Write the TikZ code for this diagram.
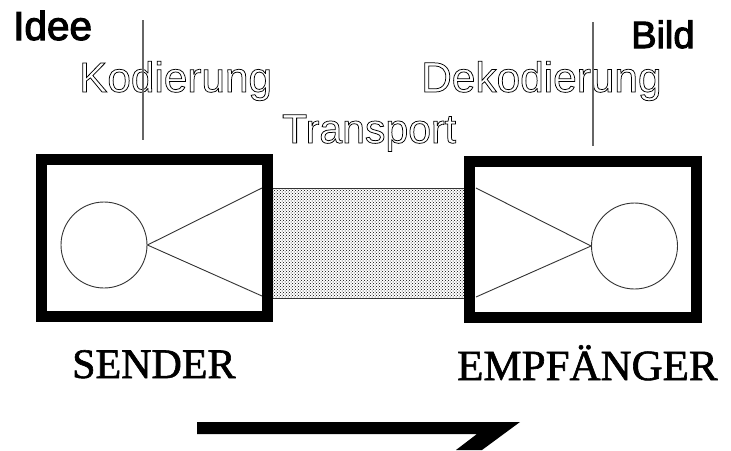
\documentclass[tikz,border=0pt]{standalone}
\usepackage{fontspec}
\setmainfont{Liberation Serif}
\newfontfamily\arialfont{Liberation Sans}
\usetikzlibrary{patterns}

\tikzset{
  frame/.style={draw=black, line width=11pt, fill=white, inner sep=0pt},
  eye/.style={circle, draw=black!80, line width=0.9pt, inner sep=0pt, minimum size=86pt},
  ray/.style={draw=black!80, line width=0.9pt},
  guide/.style={draw=black!60, line width=1.1pt},
  channel/.style={draw=black!80, line width=0.8pt, pattern=crosshatch dots, pattern color=black, inner sep=0pt},
  heading/.style={inner sep=0pt, anchor=base west, font=\arialfont},
  hollow/.style={inner sep=0pt, anchor=base west, text=black, font=\arialfont},
  station/.style={inner sep=0pt, anchor=base west},
}

% outline-only lettering (PDF text render mode 1: stroke, no fill)
\newcommand{\hollowtext}[1]{\special{pdf:literal direct 1 Tr 0.75 w}#1\special{pdf:literal direct 0 Tr}}
% heavier lettering (render mode 2: fill and stroke)
\newcommand{\heavytext}[2][1.1]{\special{pdf:literal direct 2 Tr #1 w}#2\special{pdf:literal direct 0 Tr}}

\begin{document}
\begin{tikzpicture}[x=1pt, y=-1pt]
  \useasboundingbox (0,0) rectangle (731,450);

  % transmission channel, lying under the two station frames
  \node[channel, minimum width=197pt, minimum height=110pt] (transport) at (368.5,243) {};

  % sender and receiver frames
  \node[frame, minimum width=226pt, minimum height=157pt] (sender) at (154.5,238) {};
  \node[frame, minimum width=227pt, minimum height=156pt] (receiver) at (583,239.5) {};

  % eyes and viewing cones
  \node[eye] (seye) at (104,245) {};
  \node[eye] (reye) at (634.5,246) {};
  \coordinate (stop) at (262,188);
  \coordinate (sbot) at (262,296);
  \coordinate (rtop) at (476,188);
  \coordinate (rbot) at (476,297);
  \draw[ray] (stop) -- (seye.east) -- (sbot);
  \draw[ray] (rtop) -- (reye.west) -- (rbot);

  % labels
  \node[heading, font=\arialfont\fontsize{40.5}{40}\selectfont] (idee) at (13,40) {\heavytext{Idee}};
  \node[heading, font=\arialfont\fontsize{38}{38}\selectfont] (bild) at (631,48) {\heavytext{Bild}};
  \node[hollow, font=\arialfont\fontsize{42.3}{42}\selectfont] (kod) at (79,92) {\hollowtext{Kodierung}};
  \node[hollow, font=\arialfont\fontsize{41}{41}\selectfont] (trans) at (282,143) {\hollowtext{Transport}};
  \node[hollow, font=\arialfont\fontsize{42.4}{42}\selectfont] (dekod) at (421,92) {\hollowtext{Dekodierung}};
  \node[station, font=\fontsize{42}{42}\selectfont] (sname) at (72,378) {\heavytext[0.6]{SENDER}};
  \node[station, font=\fontsize{43}{43}\selectfont] (rname) at (457,380) {\heavytext[0.6]{EMPFÄNGER}};

  % guide lines through the coding labels
  \coordinate (g1a) at (143,20);
  \coordinate (g1b) at (143,140);
  \coordinate (g2a) at (593,22);
  \coordinate (g2b) at (593,146);
  \draw[guide] (g1a) -- (g1b);
  \draw[guide] (g2a) -- (g2b);

  % direction arrow (half arrowhead)
  \fill[black] (197,422) -- (520,422) -- (482,450) -- (456,450) -- (477,434) -- (197,434) -- cycle;
\end{tikzpicture}
\end{document}
